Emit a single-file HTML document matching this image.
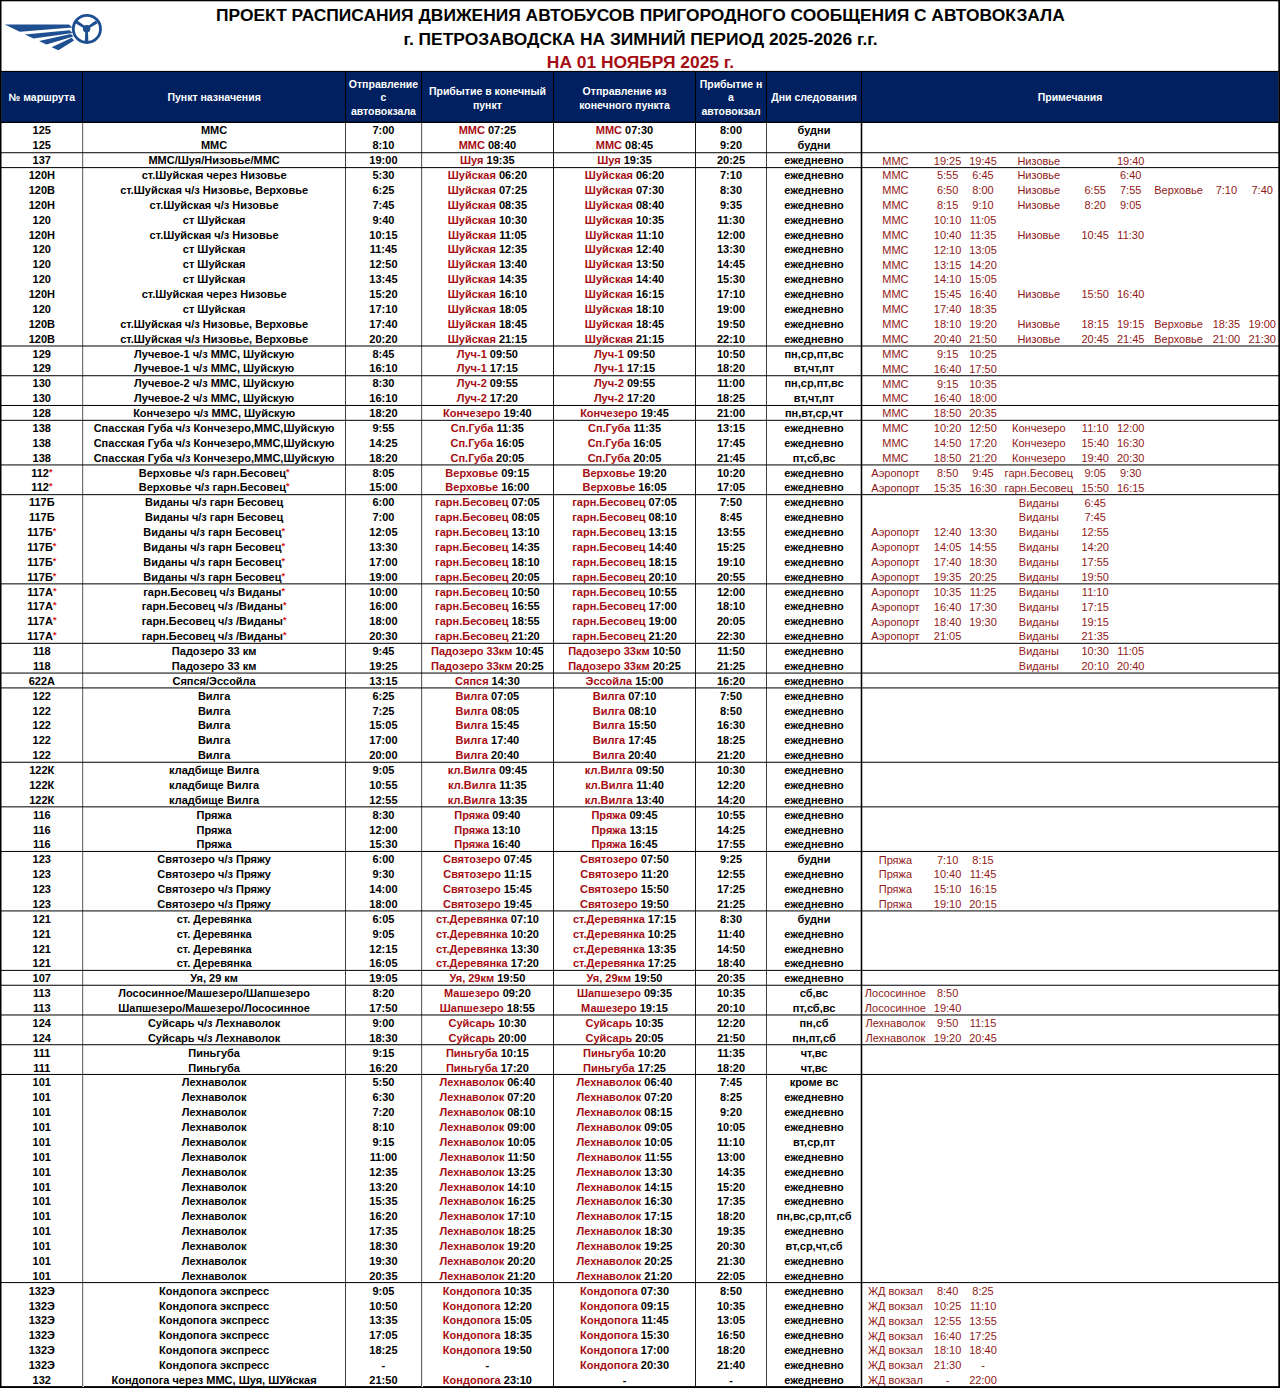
<!DOCTYPE html>
<html lang="ru"><head><meta charset="utf-8"><title>Расписание</title>
<style>
html,body{margin:0;padding:0;background:#fff;}
body{width:1280px;height:1388px;overflow:hidden;position:relative;font-family:"Liberation Sans",Arial,sans-serif;}
.t{position:absolute;white-space:nowrap;text-align:center;font-weight:bold;font-size:11px;line-height:12px;height:12px;color:#000;}
.r{color:#a50d12;}
.m{position:absolute;white-space:nowrap;text-align:center;font-weight:normal;font-size:11px;line-height:12px;height:12px;color:#901818;}
.h{position:absolute;white-space:nowrap;text-align:center;font-weight:bold;font-size:10.5px;line-height:12px;color:#fff;}
.ti{position:absolute;left:140px;width:1001px;text-align:center;white-space:nowrap;font-weight:bold;font-size:17.4px;line-height:20px;color:#000;}
sup{font-size:9px;line-height:0;color:#d81818;vertical-align:0;position:relative;top:-2px;font-weight:bold;}
svg{position:absolute;left:0;top:0;}
</style></head><body>
<svg width="1280" height="1388" viewBox="0 0 1280 1388"><rect x="1.2" y="71.8" width="1277.3" height="50.2" fill="#002060"/><rect x="0" y="0" width="1280" height="1.3" fill="#000"/><rect x="0" y="0" width="1.5" height="1388" fill="#000"/><rect x="1278.3" y="0" width="1.7" height="1388" fill="#000"/><rect x="0" y="1386.1" width="1280" height="1.9" fill="#000"/><rect x="0" y="70.9" width="1280" height="1.1" fill="#000"/><rect x="0" y="121.7" width="1280" height="1.3" fill="#000"/><rect x="82" y="123" width="1" height="1264" fill="#747474"/><rect x="83" y="123" width="1" height="1264" fill="#e2e2e2"/><rect x="345" y="123" width="1" height="1264" fill="#404040"/><rect x="421" y="123" width="1" height="1264" fill="#626262"/><rect x="422" y="123" width="1" height="1264" fill="#e8e8e8"/><rect x="553" y="123" width="1" height="1264" fill="#1a1a1a"/><rect x="695" y="123" width="1" height="1264" fill="#1a1a1a"/><rect x="766" y="123" width="1" height="1264" fill="#404040"/><rect x="860" y="123" width="1" height="1264" fill="#b8b8b8"/><rect x="861" y="123" width="1" height="1264" fill="#000"/><rect x="862" y="123" width="1" height="1264" fill="#b8b8b8"/><rect x="82" y="71" width="1" height="52" fill="#000"/><rect x="345" y="71" width="1" height="52" fill="#000"/><rect x="421" y="71" width="1" height="52" fill="#000"/><rect x="553" y="71" width="1" height="52" fill="#000"/><rect x="695" y="71" width="1" height="52" fill="#000"/><rect x="766" y="71" width="1" height="52" fill="#000"/><rect x="861" y="71" width="1" height="52" fill="#000"/><rect x="0" y="152.23" width="1280" height="1" fill="#000"/><rect x="0" y="167.10" width="1280" height="1" fill="#000"/><rect x="0" y="345.50" width="1280" height="1" fill="#000"/><rect x="0" y="375.23" width="1280" height="1" fill="#000"/><rect x="0" y="404.96" width="1280" height="1" fill="#000"/><rect x="0" y="419.83" width="1280" height="1" fill="#000"/><rect x="0" y="464.43" width="1280" height="1" fill="#000"/><rect x="0" y="494.16" width="1280" height="1" fill="#000"/><rect x="0" y="583.36" width="1280" height="1" fill="#000"/><rect x="0" y="642.82" width="1280" height="1" fill="#000"/><rect x="0" y="672.56" width="1280" height="1" fill="#000"/><rect x="0" y="687.42" width="1280" height="1" fill="#000"/><rect x="0" y="761.76" width="1280" height="1" fill="#000"/><rect x="0" y="806.35" width="1280" height="1" fill="#000"/><rect x="0" y="850.95" width="1280" height="1" fill="#000"/><rect x="0" y="910.42" width="1280" height="1" fill="#000"/><rect x="0" y="969.88" width="1280" height="1" fill="#000"/><rect x="0" y="984.75" width="1280" height="1" fill="#000"/><rect x="0" y="1014.48" width="1280" height="1" fill="#000"/><rect x="0" y="1044.22" width="1280" height="1" fill="#000"/><rect x="0" y="1073.95" width="1280" height="1" fill="#000"/><rect x="0" y="1282.08" width="1280" height="1" fill="#000"/></svg>
<svg width="110" height="60" viewBox="0 0 110 60" style="left:0;top:0">
<g fill="#1d4f91">
<polygon points="4.7,24.4 69,24.6 72.5,27.6 19.8,31.8"/>
<polygon points="24.9,34.4 69.5,30.2 72.8,33.0 33.5,38.6"/>
<polygon points="39.1,40.9 70.8,33.9 73.4,36.6 46.4,44.6"/>
<polygon points="51.6,47.3 71.8,37.8 74.0,40.4 58.4,50.2"/>
</g>
<circle cx="86.9" cy="28.9" r="13.6" fill="none" stroke="#1d4f91" stroke-width="2.8"/>
<circle cx="86.6" cy="28.7" r="3.7" fill="#1d4f91"/>
<polygon points="87.11,27.59 85.89,29.41 75.41,23.13 77.19,20.47" fill="#1d4f91"/><polygon points="87.11,29.41 85.89,27.59 95.81,20.47 97.59,23.13" fill="#1d4f91"/>
<polygon points="85.3,30 87.9,30 88.4,42.5 84.8,42.5" fill="#1d4f91"/>
</svg>
<div class="ti" style="top:4.60px;color:#000">ПРОЕКТ РАСПИСАНИЯ ДВИЖЕНИЯ АВТОБУСОВ ПРИГОРОДНОГО СООБЩЕНИЯ С АВТОВОКЗАЛА</div>
<div class="ti" style="top:28.75px;color:#000">г. ПЕТРОЗАВОДСКА НА ЗИМНИЙ ПЕРИОД 2025-2026 г.г.</div>
<div class="ti" style="top:51.50px;color:#a50d12">НА 01 НОЯБРЯ 2025 г.</div>
<div class="h" style="left:1.0px;width:81.6px;top:91.30px">№ маршрута</div>
<div class="h" style="left:82.6px;width:263.0px;top:91.30px">Пункт назначения</div>
<div class="h" style="left:345.6px;width:75.7px;top:77.50px">Отправление</div>
<div class="h" style="left:345.6px;width:75.7px;top:91.35px">с</div>
<div class="h" style="left:345.6px;width:75.7px;top:105.20px">автовокзала</div>
<div class="h" style="left:421.3px;width:132.2px;top:84.70px">Прибытие в конечный</div>
<div class="h" style="left:421.3px;width:132.2px;top:98.55px">пункт</div>
<div class="h" style="left:553.5px;width:142.0px;top:84.70px">Отправление из</div>
<div class="h" style="left:553.5px;width:142.0px;top:98.55px">конечного пункта</div>
<div class="h" style="left:695.5px;width:71.0px;top:77.50px">Прибытие н</div>
<div class="h" style="left:695.5px;width:71.0px;top:91.35px">а</div>
<div class="h" style="left:695.5px;width:71.0px;top:105.20px">автовокзал</div>
<div class="h" style="left:766.5px;width:95.0px;top:91.30px">Дни следования</div>
<div class="h" style="left:861.5px;width:417.0px;top:91.30px">Примечания</div>
<div class="t" style="left:1.0px;width:81.6px;top:124.45px">125</div>
<div class="t" style="left:82.6px;width:263.0px;top:124.45px">ММС</div>
<div class="t" style="left:345.6px;width:75.7px;top:124.45px">7:00</div>
<div class="t" style="left:421.3px;width:132.2px;top:124.45px"><span class="r">ММС</span> 07:25</div>
<div class="t" style="left:553.5px;width:142.0px;top:124.45px"><span class="r">ММС</span> 07:30</div>
<div class="t" style="left:695.5px;width:71.0px;top:124.45px">8:00</div>
<div class="t" style="left:766.5px;width:95.0px;top:124.45px">будни</div>
<div class="t" style="left:1.0px;width:81.6px;top:139.32px">125</div>
<div class="t" style="left:82.6px;width:263.0px;top:139.32px">ММС</div>
<div class="t" style="left:345.6px;width:75.7px;top:139.32px">8:10</div>
<div class="t" style="left:421.3px;width:132.2px;top:139.32px"><span class="r">ММС</span> 08:40</div>
<div class="t" style="left:553.5px;width:142.0px;top:139.32px"><span class="r">ММС</span> 08:45</div>
<div class="t" style="left:695.5px;width:71.0px;top:139.32px">9:20</div>
<div class="t" style="left:766.5px;width:95.0px;top:139.32px">будни</div>
<div class="t" style="left:1.0px;width:81.6px;top:154.20px">137</div>
<div class="t" style="left:82.6px;width:263.0px;top:154.20px">ММС/Шуя/Низовье/ММС</div>
<div class="t" style="left:345.6px;width:75.7px;top:154.20px">19:00</div>
<div class="t" style="left:421.3px;width:132.2px;top:154.20px"><span class="r">Шуя</span> 19:35</div>
<div class="t" style="left:553.5px;width:142.0px;top:154.20px"><span class="r">Шуя</span> 19:35</div>
<div class="t" style="left:695.5px;width:71.0px;top:154.20px">20:25</div>
<div class="t" style="left:766.5px;width:95.0px;top:154.20px">ежедневно</div>
<div class="m" style="left:845.4px;width:100px;top:154.50px">ММС</div>
<div class="m" style="left:897.6px;width:100px;top:154.50px">19:25</div>
<div class="m" style="left:933.0px;width:100px;top:154.50px">19:45</div>
<div class="m" style="left:988.8px;width:100px;top:154.50px">Низовье</div>
<div class="m" style="left:1080.7px;width:100px;top:154.50px">19:40</div>
<div class="t" style="left:1.0px;width:81.6px;top:169.07px">120Н</div>
<div class="t" style="left:82.6px;width:263.0px;top:169.07px">ст.Шуйская через Низовье</div>
<div class="t" style="left:345.6px;width:75.7px;top:169.07px">5:30</div>
<div class="t" style="left:421.3px;width:132.2px;top:169.07px"><span class="r">Шуйская</span> 06:20</div>
<div class="t" style="left:553.5px;width:142.0px;top:169.07px"><span class="r">Шуйская</span> 06:20</div>
<div class="t" style="left:695.5px;width:71.0px;top:169.07px">7:10</div>
<div class="t" style="left:766.5px;width:95.0px;top:169.07px">ежедневно</div>
<div class="m" style="left:845.4px;width:100px;top:169.37px">ММС</div>
<div class="m" style="left:897.6px;width:100px;top:169.37px">5:55</div>
<div class="m" style="left:933.0px;width:100px;top:169.37px">6:45</div>
<div class="m" style="left:988.8px;width:100px;top:169.37px">Низовье</div>
<div class="m" style="left:1080.7px;width:100px;top:169.37px">6:40</div>
<div class="t" style="left:1.0px;width:81.6px;top:183.95px">120В</div>
<div class="t" style="left:82.6px;width:263.0px;top:183.95px">ст.Шуйская ч/з Низовье, Верховье</div>
<div class="t" style="left:345.6px;width:75.7px;top:183.95px">6:25</div>
<div class="t" style="left:421.3px;width:132.2px;top:183.95px"><span class="r">Шуйская</span> 07:25</div>
<div class="t" style="left:553.5px;width:142.0px;top:183.95px"><span class="r">Шуйская</span> 07:30</div>
<div class="t" style="left:695.5px;width:71.0px;top:183.95px">8:30</div>
<div class="t" style="left:766.5px;width:95.0px;top:183.95px">ежедневно</div>
<div class="m" style="left:845.4px;width:100px;top:184.25px">ММС</div>
<div class="m" style="left:897.6px;width:100px;top:184.25px">6:50</div>
<div class="m" style="left:933.0px;width:100px;top:184.25px">8:00</div>
<div class="m" style="left:988.8px;width:100px;top:184.25px">Низовье</div>
<div class="m" style="left:1045.2px;width:100px;top:184.25px">6:55</div>
<div class="m" style="left:1080.7px;width:100px;top:184.25px">7:55</div>
<div class="m" style="left:1128.6px;width:100px;top:184.25px">Верховье</div>
<div class="m" style="left:1176.4px;width:100px;top:184.25px">7:10</div>
<div class="m" style="left:1212.2px;width:100px;top:184.25px">7:40</div>
<div class="t" style="left:1.0px;width:81.6px;top:198.82px">120Н</div>
<div class="t" style="left:82.6px;width:263.0px;top:198.82px">ст.Шуйская ч/з Низовье</div>
<div class="t" style="left:345.6px;width:75.7px;top:198.82px">7:45</div>
<div class="t" style="left:421.3px;width:132.2px;top:198.82px"><span class="r">Шуйская</span> 08:35</div>
<div class="t" style="left:553.5px;width:142.0px;top:198.82px"><span class="r">Шуйская</span> 08:40</div>
<div class="t" style="left:695.5px;width:71.0px;top:198.82px">9:35</div>
<div class="t" style="left:766.5px;width:95.0px;top:198.82px">ежедневно</div>
<div class="m" style="left:845.4px;width:100px;top:199.12px">ММС</div>
<div class="m" style="left:897.6px;width:100px;top:199.12px">8:15</div>
<div class="m" style="left:933.0px;width:100px;top:199.12px">9:10</div>
<div class="m" style="left:988.8px;width:100px;top:199.12px">Низовье</div>
<div class="m" style="left:1045.2px;width:100px;top:199.12px">8:20</div>
<div class="m" style="left:1080.7px;width:100px;top:199.12px">9:05</div>
<div class="t" style="left:1.0px;width:81.6px;top:213.69px">120</div>
<div class="t" style="left:82.6px;width:263.0px;top:213.69px">ст Шуйская</div>
<div class="t" style="left:345.6px;width:75.7px;top:213.69px">9:40</div>
<div class="t" style="left:421.3px;width:132.2px;top:213.69px"><span class="r">Шуйская</span> 10:30</div>
<div class="t" style="left:553.5px;width:142.0px;top:213.69px"><span class="r">Шуйская</span> 10:35</div>
<div class="t" style="left:695.5px;width:71.0px;top:213.69px">11:30</div>
<div class="t" style="left:766.5px;width:95.0px;top:213.69px">ежедневно</div>
<div class="m" style="left:845.4px;width:100px;top:213.99px">ММС</div>
<div class="m" style="left:897.6px;width:100px;top:213.99px">10:10</div>
<div class="m" style="left:933.0px;width:100px;top:213.99px">11:05</div>
<div class="t" style="left:1.0px;width:81.6px;top:228.57px">120Н</div>
<div class="t" style="left:82.6px;width:263.0px;top:228.57px">ст.Шуйская ч/з Низовье</div>
<div class="t" style="left:345.6px;width:75.7px;top:228.57px">10:15</div>
<div class="t" style="left:421.3px;width:132.2px;top:228.57px"><span class="r">Шуйская</span> 11:05</div>
<div class="t" style="left:553.5px;width:142.0px;top:228.57px"><span class="r">Шуйская</span> 11:10</div>
<div class="t" style="left:695.5px;width:71.0px;top:228.57px">12:00</div>
<div class="t" style="left:766.5px;width:95.0px;top:228.57px">ежедневно</div>
<div class="m" style="left:845.4px;width:100px;top:228.87px">ММС</div>
<div class="m" style="left:897.6px;width:100px;top:228.87px">10:40</div>
<div class="m" style="left:933.0px;width:100px;top:228.87px">11:35</div>
<div class="m" style="left:988.8px;width:100px;top:228.87px">Низовье</div>
<div class="m" style="left:1045.2px;width:100px;top:228.87px">10:45</div>
<div class="m" style="left:1080.7px;width:100px;top:228.87px">11:30</div>
<div class="t" style="left:1.0px;width:81.6px;top:243.44px">120</div>
<div class="t" style="left:82.6px;width:263.0px;top:243.44px">ст Шуйская</div>
<div class="t" style="left:345.6px;width:75.7px;top:243.44px">11:45</div>
<div class="t" style="left:421.3px;width:132.2px;top:243.44px"><span class="r">Шуйская</span> 12:35</div>
<div class="t" style="left:553.5px;width:142.0px;top:243.44px"><span class="r">Шуйская</span> 12:40</div>
<div class="t" style="left:695.5px;width:71.0px;top:243.44px">13:30</div>
<div class="t" style="left:766.5px;width:95.0px;top:243.44px">ежедневно</div>
<div class="m" style="left:845.4px;width:100px;top:243.74px">ММС</div>
<div class="m" style="left:897.6px;width:100px;top:243.74px">12:10</div>
<div class="m" style="left:933.0px;width:100px;top:243.74px">13:05</div>
<div class="t" style="left:1.0px;width:81.6px;top:258.32px">120</div>
<div class="t" style="left:82.6px;width:263.0px;top:258.32px">ст Шуйская</div>
<div class="t" style="left:345.6px;width:75.7px;top:258.32px">12:50</div>
<div class="t" style="left:421.3px;width:132.2px;top:258.32px"><span class="r">Шуйская</span> 13:40</div>
<div class="t" style="left:553.5px;width:142.0px;top:258.32px"><span class="r">Шуйская</span> 13:50</div>
<div class="t" style="left:695.5px;width:71.0px;top:258.32px">14:45</div>
<div class="t" style="left:766.5px;width:95.0px;top:258.32px">ежедневно</div>
<div class="m" style="left:845.4px;width:100px;top:258.62px">ММС</div>
<div class="m" style="left:897.6px;width:100px;top:258.62px">13:15</div>
<div class="m" style="left:933.0px;width:100px;top:258.62px">14:20</div>
<div class="t" style="left:1.0px;width:81.6px;top:273.19px">120</div>
<div class="t" style="left:82.6px;width:263.0px;top:273.19px">ст Шуйская</div>
<div class="t" style="left:345.6px;width:75.7px;top:273.19px">13:45</div>
<div class="t" style="left:421.3px;width:132.2px;top:273.19px"><span class="r">Шуйская</span> 14:35</div>
<div class="t" style="left:553.5px;width:142.0px;top:273.19px"><span class="r">Шуйская</span> 14:40</div>
<div class="t" style="left:695.5px;width:71.0px;top:273.19px">15:30</div>
<div class="t" style="left:766.5px;width:95.0px;top:273.19px">ежедневно</div>
<div class="m" style="left:845.4px;width:100px;top:273.49px">ММС</div>
<div class="m" style="left:897.6px;width:100px;top:273.49px">14:10</div>
<div class="m" style="left:933.0px;width:100px;top:273.49px">15:05</div>
<div class="t" style="left:1.0px;width:81.6px;top:288.06px">120Н</div>
<div class="t" style="left:82.6px;width:263.0px;top:288.06px">ст.Шуйская через Низовье</div>
<div class="t" style="left:345.6px;width:75.7px;top:288.06px">15:20</div>
<div class="t" style="left:421.3px;width:132.2px;top:288.06px"><span class="r">Шуйская</span> 16:10</div>
<div class="t" style="left:553.5px;width:142.0px;top:288.06px"><span class="r">Шуйская</span> 16:15</div>
<div class="t" style="left:695.5px;width:71.0px;top:288.06px">17:10</div>
<div class="t" style="left:766.5px;width:95.0px;top:288.06px">ежедневно</div>
<div class="m" style="left:845.4px;width:100px;top:288.36px">ММС</div>
<div class="m" style="left:897.6px;width:100px;top:288.36px">15:45</div>
<div class="m" style="left:933.0px;width:100px;top:288.36px">16:40</div>
<div class="m" style="left:988.8px;width:100px;top:288.36px">Низовье</div>
<div class="m" style="left:1045.2px;width:100px;top:288.36px">15:50</div>
<div class="m" style="left:1080.7px;width:100px;top:288.36px">16:40</div>
<div class="t" style="left:1.0px;width:81.6px;top:302.94px">120</div>
<div class="t" style="left:82.6px;width:263.0px;top:302.94px">ст Шуйская</div>
<div class="t" style="left:345.6px;width:75.7px;top:302.94px">17:10</div>
<div class="t" style="left:421.3px;width:132.2px;top:302.94px"><span class="r">Шуйская</span> 18:05</div>
<div class="t" style="left:553.5px;width:142.0px;top:302.94px"><span class="r">Шуйская</span> 18:10</div>
<div class="t" style="left:695.5px;width:71.0px;top:302.94px">19:00</div>
<div class="t" style="left:766.5px;width:95.0px;top:302.94px">ежедневно</div>
<div class="m" style="left:845.4px;width:100px;top:303.24px">ММС</div>
<div class="m" style="left:897.6px;width:100px;top:303.24px">17:40</div>
<div class="m" style="left:933.0px;width:100px;top:303.24px">18:35</div>
<div class="t" style="left:1.0px;width:81.6px;top:317.81px">120В</div>
<div class="t" style="left:82.6px;width:263.0px;top:317.81px">ст.Шуйская ч/з Низовье, Верховье</div>
<div class="t" style="left:345.6px;width:75.7px;top:317.81px">17:40</div>
<div class="t" style="left:421.3px;width:132.2px;top:317.81px"><span class="r">Шуйская</span> 18:45</div>
<div class="t" style="left:553.5px;width:142.0px;top:317.81px"><span class="r">Шуйская</span> 18:45</div>
<div class="t" style="left:695.5px;width:71.0px;top:317.81px">19:50</div>
<div class="t" style="left:766.5px;width:95.0px;top:317.81px">ежедневно</div>
<div class="m" style="left:845.4px;width:100px;top:318.11px">ММС</div>
<div class="m" style="left:897.6px;width:100px;top:318.11px">18:10</div>
<div class="m" style="left:933.0px;width:100px;top:318.11px">19:20</div>
<div class="m" style="left:988.8px;width:100px;top:318.11px">Низовье</div>
<div class="m" style="left:1045.2px;width:100px;top:318.11px">18:15</div>
<div class="m" style="left:1080.7px;width:100px;top:318.11px">19:15</div>
<div class="m" style="left:1128.6px;width:100px;top:318.11px">Верховье</div>
<div class="m" style="left:1176.4px;width:100px;top:318.11px">18:35</div>
<div class="m" style="left:1212.2px;width:100px;top:318.11px">19:00</div>
<div class="t" style="left:1.0px;width:81.6px;top:332.69px">120В</div>
<div class="t" style="left:82.6px;width:263.0px;top:332.69px">ст.Шуйская ч/з Низовье, Верховье</div>
<div class="t" style="left:345.6px;width:75.7px;top:332.69px">20:20</div>
<div class="t" style="left:421.3px;width:132.2px;top:332.69px"><span class="r">Шуйская</span> 21:15</div>
<div class="t" style="left:553.5px;width:142.0px;top:332.69px"><span class="r">Шуйская</span> 21:15</div>
<div class="t" style="left:695.5px;width:71.0px;top:332.69px">22:10</div>
<div class="t" style="left:766.5px;width:95.0px;top:332.69px">ежедневно</div>
<div class="m" style="left:845.4px;width:100px;top:332.99px">ММС</div>
<div class="m" style="left:897.6px;width:100px;top:332.99px">20:40</div>
<div class="m" style="left:933.0px;width:100px;top:332.99px">21:50</div>
<div class="m" style="left:988.8px;width:100px;top:332.99px">Низовье</div>
<div class="m" style="left:1045.2px;width:100px;top:332.99px">20:45</div>
<div class="m" style="left:1080.7px;width:100px;top:332.99px">21:45</div>
<div class="m" style="left:1128.6px;width:100px;top:332.99px">Верховье</div>
<div class="m" style="left:1176.4px;width:100px;top:332.99px">21:00</div>
<div class="m" style="left:1212.2px;width:100px;top:332.99px">21:30</div>
<div class="t" style="left:1.0px;width:81.6px;top:347.56px">129</div>
<div class="t" style="left:82.6px;width:263.0px;top:347.56px">Лучевое-1 ч/з ММС, Шуйскую</div>
<div class="t" style="left:345.6px;width:75.7px;top:347.56px">8:45</div>
<div class="t" style="left:421.3px;width:132.2px;top:347.56px"><span class="r">Луч-1</span> 09:50</div>
<div class="t" style="left:553.5px;width:142.0px;top:347.56px"><span class="r">Луч-1</span> 09:50</div>
<div class="t" style="left:695.5px;width:71.0px;top:347.56px">10:50</div>
<div class="t" style="left:766.5px;width:95.0px;top:347.56px">пн,ср,пт,вс</div>
<div class="m" style="left:845.4px;width:100px;top:347.86px">ММС</div>
<div class="m" style="left:897.6px;width:100px;top:347.86px">9:15</div>
<div class="m" style="left:933.0px;width:100px;top:347.86px">10:25</div>
<div class="t" style="left:1.0px;width:81.6px;top:362.43px">129</div>
<div class="t" style="left:82.6px;width:263.0px;top:362.43px">Лучевое-1 ч/з ММС, Шуйскую</div>
<div class="t" style="left:345.6px;width:75.7px;top:362.43px">16:10</div>
<div class="t" style="left:421.3px;width:132.2px;top:362.43px"><span class="r">Луч-1</span> 17:15</div>
<div class="t" style="left:553.5px;width:142.0px;top:362.43px"><span class="r">Луч-1</span> 17:15</div>
<div class="t" style="left:695.5px;width:71.0px;top:362.43px">18:20</div>
<div class="t" style="left:766.5px;width:95.0px;top:362.43px">вт,чт,пт</div>
<div class="m" style="left:845.4px;width:100px;top:362.73px">ММС</div>
<div class="m" style="left:897.6px;width:100px;top:362.73px">16:40</div>
<div class="m" style="left:933.0px;width:100px;top:362.73px">17:50</div>
<div class="t" style="left:1.0px;width:81.6px;top:377.31px">130</div>
<div class="t" style="left:82.6px;width:263.0px;top:377.31px">Лучевое-2 ч/з ММС, Шуйскую</div>
<div class="t" style="left:345.6px;width:75.7px;top:377.31px">8:30</div>
<div class="t" style="left:421.3px;width:132.2px;top:377.31px"><span class="r">Луч-2</span> 09:55</div>
<div class="t" style="left:553.5px;width:142.0px;top:377.31px"><span class="r">Луч-2</span> 09:55</div>
<div class="t" style="left:695.5px;width:71.0px;top:377.31px">11:00</div>
<div class="t" style="left:766.5px;width:95.0px;top:377.31px">пн,ср,пт,вс</div>
<div class="m" style="left:845.4px;width:100px;top:377.61px">ММС</div>
<div class="m" style="left:897.6px;width:100px;top:377.61px">9:15</div>
<div class="m" style="left:933.0px;width:100px;top:377.61px">10:35</div>
<div class="t" style="left:1.0px;width:81.6px;top:392.18px">130</div>
<div class="t" style="left:82.6px;width:263.0px;top:392.18px">Лучевое-2 ч/з ММС, Шуйскую</div>
<div class="t" style="left:345.6px;width:75.7px;top:392.18px">16:10</div>
<div class="t" style="left:421.3px;width:132.2px;top:392.18px"><span class="r">Луч-2</span> 17:20</div>
<div class="t" style="left:553.5px;width:142.0px;top:392.18px"><span class="r">Луч-2</span> 17:20</div>
<div class="t" style="left:695.5px;width:71.0px;top:392.18px">18:25</div>
<div class="t" style="left:766.5px;width:95.0px;top:392.18px">вт,чт,пт</div>
<div class="m" style="left:845.4px;width:100px;top:392.48px">ММС</div>
<div class="m" style="left:897.6px;width:100px;top:392.48px">16:40</div>
<div class="m" style="left:933.0px;width:100px;top:392.48px">18:00</div>
<div class="t" style="left:1.0px;width:81.6px;top:407.06px">128</div>
<div class="t" style="left:82.6px;width:263.0px;top:407.06px">Кончезеро ч/з ММС, Шуйскую</div>
<div class="t" style="left:345.6px;width:75.7px;top:407.06px">18:20</div>
<div class="t" style="left:421.3px;width:132.2px;top:407.06px"><span class="r">Кончезеро</span> 19:40</div>
<div class="t" style="left:553.5px;width:142.0px;top:407.06px"><span class="r">Кончезеро</span> 19:45</div>
<div class="t" style="left:695.5px;width:71.0px;top:407.06px">21:00</div>
<div class="t" style="left:766.5px;width:95.0px;top:407.06px">пн,вт,ср,чт</div>
<div class="m" style="left:845.4px;width:100px;top:407.36px">ММС</div>
<div class="m" style="left:897.6px;width:100px;top:407.36px">18:50</div>
<div class="m" style="left:933.0px;width:100px;top:407.36px">20:35</div>
<div class="t" style="left:1.0px;width:81.6px;top:421.93px">138</div>
<div class="t" style="left:82.6px;width:263.0px;top:421.93px">Спасская Губа ч/з Кончезеро,ММС,Шуйскую</div>
<div class="t" style="left:345.6px;width:75.7px;top:421.93px">9:55</div>
<div class="t" style="left:421.3px;width:132.2px;top:421.93px"><span class="r">Сп.Губа</span> 11:35</div>
<div class="t" style="left:553.5px;width:142.0px;top:421.93px"><span class="r">Сп.Губа</span> 11:35</div>
<div class="t" style="left:695.5px;width:71.0px;top:421.93px">13:15</div>
<div class="t" style="left:766.5px;width:95.0px;top:421.93px">ежедневно</div>
<div class="m" style="left:845.4px;width:100px;top:422.23px">ММС</div>
<div class="m" style="left:897.6px;width:100px;top:422.23px">10:20</div>
<div class="m" style="left:933.0px;width:100px;top:422.23px">12:50</div>
<div class="m" style="left:988.8px;width:100px;top:422.23px">Кончезеро</div>
<div class="m" style="left:1045.2px;width:100px;top:422.23px">11:10</div>
<div class="m" style="left:1080.7px;width:100px;top:422.23px">12:00</div>
<div class="t" style="left:1.0px;width:81.6px;top:436.80px">138</div>
<div class="t" style="left:82.6px;width:263.0px;top:436.80px">Спасская Губа ч/з Кончезеро,ММС,Шуйскую</div>
<div class="t" style="left:345.6px;width:75.7px;top:436.80px">14:25</div>
<div class="t" style="left:421.3px;width:132.2px;top:436.80px"><span class="r">Сп.Губа</span> 16:05</div>
<div class="t" style="left:553.5px;width:142.0px;top:436.80px"><span class="r">Сп.Губа</span> 16:05</div>
<div class="t" style="left:695.5px;width:71.0px;top:436.80px">17:45</div>
<div class="t" style="left:766.5px;width:95.0px;top:436.80px">ежедневно</div>
<div class="m" style="left:845.4px;width:100px;top:437.10px">ММС</div>
<div class="m" style="left:897.6px;width:100px;top:437.10px">14:50</div>
<div class="m" style="left:933.0px;width:100px;top:437.10px">17:20</div>
<div class="m" style="left:988.8px;width:100px;top:437.10px">Кончезеро</div>
<div class="m" style="left:1045.2px;width:100px;top:437.10px">15:40</div>
<div class="m" style="left:1080.7px;width:100px;top:437.10px">16:30</div>
<div class="t" style="left:1.0px;width:81.6px;top:451.68px">138</div>
<div class="t" style="left:82.6px;width:263.0px;top:451.68px">Спасская Губа ч/з Кончезеро,ММС,Шуйскую</div>
<div class="t" style="left:345.6px;width:75.7px;top:451.68px">18:20</div>
<div class="t" style="left:421.3px;width:132.2px;top:451.68px"><span class="r">Сп.Губа</span> 20:05</div>
<div class="t" style="left:553.5px;width:142.0px;top:451.68px"><span class="r">Сп.Губа</span> 20:05</div>
<div class="t" style="left:695.5px;width:71.0px;top:451.68px">21:45</div>
<div class="t" style="left:766.5px;width:95.0px;top:451.68px">пт,сб,вс</div>
<div class="m" style="left:845.4px;width:100px;top:451.98px">ММС</div>
<div class="m" style="left:897.6px;width:100px;top:451.98px">18:50</div>
<div class="m" style="left:933.0px;width:100px;top:451.98px">21:20</div>
<div class="m" style="left:988.8px;width:100px;top:451.98px">Кончезеро</div>
<div class="m" style="left:1045.2px;width:100px;top:451.98px">19:40</div>
<div class="m" style="left:1080.7px;width:100px;top:451.98px">20:30</div>
<div class="t" style="left:1.0px;width:81.6px;top:466.55px">112<sup>*</sup></div>
<div class="t" style="left:82.6px;width:263.0px;top:466.55px">Верховье ч/з гарн.Бесовец<sup>*</sup></div>
<div class="t" style="left:345.6px;width:75.7px;top:466.55px">8:05</div>
<div class="t" style="left:421.3px;width:132.2px;top:466.55px"><span class="r">Верховье</span> 09:15</div>
<div class="t" style="left:553.5px;width:142.0px;top:466.55px"><span class="r">Верховье</span> 19:20</div>
<div class="t" style="left:695.5px;width:71.0px;top:466.55px">10:20</div>
<div class="t" style="left:766.5px;width:95.0px;top:466.55px">ежедневно</div>
<div class="m" style="left:845.4px;width:100px;top:466.85px">Аэропорт</div>
<div class="m" style="left:897.6px;width:100px;top:466.85px">8:50</div>
<div class="m" style="left:933.0px;width:100px;top:466.85px">9:45</div>
<div class="m" style="left:988.8px;width:100px;top:466.85px">гарн.Бесовец</div>
<div class="m" style="left:1045.2px;width:100px;top:466.85px">9:05</div>
<div class="m" style="left:1080.7px;width:100px;top:466.85px">9:30</div>
<div class="t" style="left:1.0px;width:81.6px;top:481.43px">112<sup>*</sup></div>
<div class="t" style="left:82.6px;width:263.0px;top:481.43px">Верховье ч/з гарн.Бесовец<sup>*</sup></div>
<div class="t" style="left:345.6px;width:75.7px;top:481.43px">15:00</div>
<div class="t" style="left:421.3px;width:132.2px;top:481.43px"><span class="r">Верховье</span> 16:00</div>
<div class="t" style="left:553.5px;width:142.0px;top:481.43px"><span class="r">Верховье</span> 16:05</div>
<div class="t" style="left:695.5px;width:71.0px;top:481.43px">17:05</div>
<div class="t" style="left:766.5px;width:95.0px;top:481.43px">ежедневно</div>
<div class="m" style="left:845.4px;width:100px;top:481.73px">Аэропорт</div>
<div class="m" style="left:897.6px;width:100px;top:481.73px">15:35</div>
<div class="m" style="left:933.0px;width:100px;top:481.73px">16:30</div>
<div class="m" style="left:988.8px;width:100px;top:481.73px">гарн.Бесовец</div>
<div class="m" style="left:1045.2px;width:100px;top:481.73px">15:50</div>
<div class="m" style="left:1080.7px;width:100px;top:481.73px">16:15</div>
<div class="t" style="left:1.0px;width:81.6px;top:496.30px">117Б</div>
<div class="t" style="left:82.6px;width:263.0px;top:496.30px">Виданы ч/з гарн Бесовец</div>
<div class="t" style="left:345.6px;width:75.7px;top:496.30px">6:00</div>
<div class="t" style="left:421.3px;width:132.2px;top:496.30px"><span class="r">гарн.Бесовец</span> 07:05</div>
<div class="t" style="left:553.5px;width:142.0px;top:496.30px"><span class="r">гарн.Бесовец</span> 07:05</div>
<div class="t" style="left:695.5px;width:71.0px;top:496.30px">7:50</div>
<div class="t" style="left:766.5px;width:95.0px;top:496.30px">ежедневно</div>
<div class="m" style="left:988.8px;width:100px;top:496.60px">Виданы</div>
<div class="m" style="left:1045.2px;width:100px;top:496.60px">6:45</div>
<div class="t" style="left:1.0px;width:81.6px;top:511.17px">117Б</div>
<div class="t" style="left:82.6px;width:263.0px;top:511.17px">Виданы ч/з гарн Бесовец</div>
<div class="t" style="left:345.6px;width:75.7px;top:511.17px">7:00</div>
<div class="t" style="left:421.3px;width:132.2px;top:511.17px"><span class="r">гарн.Бесовец</span> 08:05</div>
<div class="t" style="left:553.5px;width:142.0px;top:511.17px"><span class="r">гарн.Бесовец</span> 08:10</div>
<div class="t" style="left:695.5px;width:71.0px;top:511.17px">8:45</div>
<div class="t" style="left:766.5px;width:95.0px;top:511.17px">ежедневно</div>
<div class="m" style="left:988.8px;width:100px;top:511.47px">Виданы</div>
<div class="m" style="left:1045.2px;width:100px;top:511.47px">7:45</div>
<div class="t" style="left:1.0px;width:81.6px;top:526.05px">117Б<sup>*</sup></div>
<div class="t" style="left:82.6px;width:263.0px;top:526.05px">Виданы ч/з гарн Бесовец<sup>*</sup></div>
<div class="t" style="left:345.6px;width:75.7px;top:526.05px">12:05</div>
<div class="t" style="left:421.3px;width:132.2px;top:526.05px"><span class="r">гарн.Бесовец</span> 13:10</div>
<div class="t" style="left:553.5px;width:142.0px;top:526.05px"><span class="r">гарн.Бесовец</span> 13:15</div>
<div class="t" style="left:695.5px;width:71.0px;top:526.05px">13:55</div>
<div class="t" style="left:766.5px;width:95.0px;top:526.05px">ежедневно</div>
<div class="m" style="left:845.4px;width:100px;top:526.35px">Аэропорт</div>
<div class="m" style="left:897.6px;width:100px;top:526.35px">12:40</div>
<div class="m" style="left:933.0px;width:100px;top:526.35px">13:30</div>
<div class="m" style="left:988.8px;width:100px;top:526.35px">Виданы</div>
<div class="m" style="left:1045.2px;width:100px;top:526.35px">12:55</div>
<div class="t" style="left:1.0px;width:81.6px;top:540.92px">117Б<sup>*</sup></div>
<div class="t" style="left:82.6px;width:263.0px;top:540.92px">Виданы ч/з гарн Бесовец<sup>*</sup></div>
<div class="t" style="left:345.6px;width:75.7px;top:540.92px">13:30</div>
<div class="t" style="left:421.3px;width:132.2px;top:540.92px"><span class="r">гарн.Бесовец</span> 14:35</div>
<div class="t" style="left:553.5px;width:142.0px;top:540.92px"><span class="r">гарн.Бесовец</span> 14:40</div>
<div class="t" style="left:695.5px;width:71.0px;top:540.92px">15:25</div>
<div class="t" style="left:766.5px;width:95.0px;top:540.92px">ежедневно</div>
<div class="m" style="left:845.4px;width:100px;top:541.22px">Аэропорт</div>
<div class="m" style="left:897.6px;width:100px;top:541.22px">14:05</div>
<div class="m" style="left:933.0px;width:100px;top:541.22px">14:55</div>
<div class="m" style="left:988.8px;width:100px;top:541.22px">Виданы</div>
<div class="m" style="left:1045.2px;width:100px;top:541.22px">14:20</div>
<div class="t" style="left:1.0px;width:81.6px;top:555.80px">117Б<sup>*</sup></div>
<div class="t" style="left:82.6px;width:263.0px;top:555.80px">Виданы ч/з гарн Бесовец<sup>*</sup></div>
<div class="t" style="left:345.6px;width:75.7px;top:555.80px">17:00</div>
<div class="t" style="left:421.3px;width:132.2px;top:555.80px"><span class="r">гарн.Бесовец</span> 18:10</div>
<div class="t" style="left:553.5px;width:142.0px;top:555.80px"><span class="r">гарн.Бесовец</span> 18:15</div>
<div class="t" style="left:695.5px;width:71.0px;top:555.80px">19:10</div>
<div class="t" style="left:766.5px;width:95.0px;top:555.80px">ежедневно</div>
<div class="m" style="left:845.4px;width:100px;top:556.10px">Аэропорт</div>
<div class="m" style="left:897.6px;width:100px;top:556.10px">17:40</div>
<div class="m" style="left:933.0px;width:100px;top:556.10px">18:30</div>
<div class="m" style="left:988.8px;width:100px;top:556.10px">Виданы</div>
<div class="m" style="left:1045.2px;width:100px;top:556.10px">17:55</div>
<div class="t" style="left:1.0px;width:81.6px;top:570.67px">117Б<sup>*</sup></div>
<div class="t" style="left:82.6px;width:263.0px;top:570.67px">Виданы ч/з гарн Бесовец<sup>*</sup></div>
<div class="t" style="left:345.6px;width:75.7px;top:570.67px">19:00</div>
<div class="t" style="left:421.3px;width:132.2px;top:570.67px"><span class="r">гарн.Бесовец</span> 20:05</div>
<div class="t" style="left:553.5px;width:142.0px;top:570.67px"><span class="r">гарн.Бесовец</span> 20:10</div>
<div class="t" style="left:695.5px;width:71.0px;top:570.67px">20:55</div>
<div class="t" style="left:766.5px;width:95.0px;top:570.67px">ежедневно</div>
<div class="m" style="left:845.4px;width:100px;top:570.97px">Аэропорт</div>
<div class="m" style="left:897.6px;width:100px;top:570.97px">19:35</div>
<div class="m" style="left:933.0px;width:100px;top:570.97px">20:25</div>
<div class="m" style="left:988.8px;width:100px;top:570.97px">Виданы</div>
<div class="m" style="left:1045.2px;width:100px;top:570.97px">19:50</div>
<div class="t" style="left:1.0px;width:81.6px;top:585.54px">117А<sup>*</sup></div>
<div class="t" style="left:82.6px;width:263.0px;top:585.54px">гарн.Бесовец ч/з Виданы<sup>*</sup></div>
<div class="t" style="left:345.6px;width:75.7px;top:585.54px">10:00</div>
<div class="t" style="left:421.3px;width:132.2px;top:585.54px"><span class="r">гарн.Бесовец</span> 10:50</div>
<div class="t" style="left:553.5px;width:142.0px;top:585.54px"><span class="r">гарн.Бесовец</span> 10:55</div>
<div class="t" style="left:695.5px;width:71.0px;top:585.54px">12:00</div>
<div class="t" style="left:766.5px;width:95.0px;top:585.54px">ежедневно</div>
<div class="m" style="left:845.4px;width:100px;top:585.84px">Аэропорт</div>
<div class="m" style="left:897.6px;width:100px;top:585.84px">10:35</div>
<div class="m" style="left:933.0px;width:100px;top:585.84px">11:25</div>
<div class="m" style="left:988.8px;width:100px;top:585.84px">Виданы</div>
<div class="m" style="left:1045.2px;width:100px;top:585.84px">11:10</div>
<div class="t" style="left:1.0px;width:81.6px;top:600.42px">117А<sup>*</sup></div>
<div class="t" style="left:82.6px;width:263.0px;top:600.42px">гарн.Бесовец ч/з /Виданы<sup>*</sup></div>
<div class="t" style="left:345.6px;width:75.7px;top:600.42px">16:00</div>
<div class="t" style="left:421.3px;width:132.2px;top:600.42px"><span class="r">гарн.Бесовец</span> 16:55</div>
<div class="t" style="left:553.5px;width:142.0px;top:600.42px"><span class="r">гарн.Бесовец</span> 17:00</div>
<div class="t" style="left:695.5px;width:71.0px;top:600.42px">18:10</div>
<div class="t" style="left:766.5px;width:95.0px;top:600.42px">ежедневно</div>
<div class="m" style="left:845.4px;width:100px;top:600.72px">Аэропорт</div>
<div class="m" style="left:897.6px;width:100px;top:600.72px">16:40</div>
<div class="m" style="left:933.0px;width:100px;top:600.72px">17:30</div>
<div class="m" style="left:988.8px;width:100px;top:600.72px">Виданы</div>
<div class="m" style="left:1045.2px;width:100px;top:600.72px">17:15</div>
<div class="t" style="left:1.0px;width:81.6px;top:615.29px">117А<sup>*</sup></div>
<div class="t" style="left:82.6px;width:263.0px;top:615.29px">гарн.Бесовец ч/з /Виданы<sup>*</sup></div>
<div class="t" style="left:345.6px;width:75.7px;top:615.29px">18:00</div>
<div class="t" style="left:421.3px;width:132.2px;top:615.29px"><span class="r">гарн.Бесовец</span> 18:55</div>
<div class="t" style="left:553.5px;width:142.0px;top:615.29px"><span class="r">гарн.Бесовец</span> 19:00</div>
<div class="t" style="left:695.5px;width:71.0px;top:615.29px">20:05</div>
<div class="t" style="left:766.5px;width:95.0px;top:615.29px">ежедневно</div>
<div class="m" style="left:845.4px;width:100px;top:615.59px">Аэропорт</div>
<div class="m" style="left:897.6px;width:100px;top:615.59px">18:40</div>
<div class="m" style="left:933.0px;width:100px;top:615.59px">19:30</div>
<div class="m" style="left:988.8px;width:100px;top:615.59px">Виданы</div>
<div class="m" style="left:1045.2px;width:100px;top:615.59px">19:15</div>
<div class="t" style="left:1.0px;width:81.6px;top:630.17px">117А<sup>*</sup></div>
<div class="t" style="left:82.6px;width:263.0px;top:630.17px">гарн.Бесовец ч/з /Виданы<sup>*</sup></div>
<div class="t" style="left:345.6px;width:75.7px;top:630.17px">20:30</div>
<div class="t" style="left:421.3px;width:132.2px;top:630.17px"><span class="r">гарн.Бесовец</span> 21:20</div>
<div class="t" style="left:553.5px;width:142.0px;top:630.17px"><span class="r">гарн.Бесовец</span> 21:20</div>
<div class="t" style="left:695.5px;width:71.0px;top:630.17px">22:30</div>
<div class="t" style="left:766.5px;width:95.0px;top:630.17px">ежедневно</div>
<div class="m" style="left:845.4px;width:100px;top:630.47px">Аэропорт</div>
<div class="m" style="left:897.6px;width:100px;top:630.47px">21:05</div>
<div class="m" style="left:988.8px;width:100px;top:630.47px">Виданы</div>
<div class="m" style="left:1045.2px;width:100px;top:630.47px">21:35</div>
<div class="t" style="left:1.0px;width:81.6px;top:645.04px">118</div>
<div class="t" style="left:82.6px;width:263.0px;top:645.04px">Падозеро 33 км</div>
<div class="t" style="left:345.6px;width:75.7px;top:645.04px">9:45</div>
<div class="t" style="left:421.3px;width:132.2px;top:645.04px"><span class="r">Падозеро 33км</span> 10:45</div>
<div class="t" style="left:553.5px;width:142.0px;top:645.04px"><span class="r">Падозеро 33км</span> 10:50</div>
<div class="t" style="left:695.5px;width:71.0px;top:645.04px">11:50</div>
<div class="t" style="left:766.5px;width:95.0px;top:645.04px">ежедневно</div>
<div class="m" style="left:988.8px;width:100px;top:645.34px">Виданы</div>
<div class="m" style="left:1045.2px;width:100px;top:645.34px">10:30</div>
<div class="m" style="left:1080.7px;width:100px;top:645.34px">11:05</div>
<div class="t" style="left:1.0px;width:81.6px;top:659.91px">118</div>
<div class="t" style="left:82.6px;width:263.0px;top:659.91px">Падозеро 33 км</div>
<div class="t" style="left:345.6px;width:75.7px;top:659.91px">19:25</div>
<div class="t" style="left:421.3px;width:132.2px;top:659.91px"><span class="r">Падозеро 33км</span> 20:25</div>
<div class="t" style="left:553.5px;width:142.0px;top:659.91px"><span class="r">Падозеро 33км</span> 20:25</div>
<div class="t" style="left:695.5px;width:71.0px;top:659.91px">21:25</div>
<div class="t" style="left:766.5px;width:95.0px;top:659.91px">ежедневно</div>
<div class="m" style="left:988.8px;width:100px;top:660.21px">Виданы</div>
<div class="m" style="left:1045.2px;width:100px;top:660.21px">20:10</div>
<div class="m" style="left:1080.7px;width:100px;top:660.21px">20:40</div>
<div class="t" style="left:1.0px;width:81.6px;top:674.79px">622А</div>
<div class="t" style="left:82.6px;width:263.0px;top:674.79px">Сяпся/Эссойла</div>
<div class="t" style="left:345.6px;width:75.7px;top:674.79px">13:15</div>
<div class="t" style="left:421.3px;width:132.2px;top:674.79px"><span class="r">Сяпся</span> 14:30</div>
<div class="t" style="left:553.5px;width:142.0px;top:674.79px"><span class="r">Эссойла</span> 15:00</div>
<div class="t" style="left:695.5px;width:71.0px;top:674.79px">16:20</div>
<div class="t" style="left:766.5px;width:95.0px;top:674.79px">ежедневно</div>
<div class="t" style="left:1.0px;width:81.6px;top:689.66px">122</div>
<div class="t" style="left:82.6px;width:263.0px;top:689.66px">Вилга</div>
<div class="t" style="left:345.6px;width:75.7px;top:689.66px">6:25</div>
<div class="t" style="left:421.3px;width:132.2px;top:689.66px"><span class="r">Вилга</span> 07:05</div>
<div class="t" style="left:553.5px;width:142.0px;top:689.66px"><span class="r">Вилга</span> 07:10</div>
<div class="t" style="left:695.5px;width:71.0px;top:689.66px">7:50</div>
<div class="t" style="left:766.5px;width:95.0px;top:689.66px">ежедневно</div>
<div class="t" style="left:1.0px;width:81.6px;top:704.54px">122</div>
<div class="t" style="left:82.6px;width:263.0px;top:704.54px">Вилга</div>
<div class="t" style="left:345.6px;width:75.7px;top:704.54px">7:25</div>
<div class="t" style="left:421.3px;width:132.2px;top:704.54px"><span class="r">Вилга</span> 08:05</div>
<div class="t" style="left:553.5px;width:142.0px;top:704.54px"><span class="r">Вилга</span> 08:10</div>
<div class="t" style="left:695.5px;width:71.0px;top:704.54px">8:50</div>
<div class="t" style="left:766.5px;width:95.0px;top:704.54px">ежедневно</div>
<div class="t" style="left:1.0px;width:81.6px;top:719.41px">122</div>
<div class="t" style="left:82.6px;width:263.0px;top:719.41px">Вилга</div>
<div class="t" style="left:345.6px;width:75.7px;top:719.41px">15:05</div>
<div class="t" style="left:421.3px;width:132.2px;top:719.41px"><span class="r">Вилга</span> 15:45</div>
<div class="t" style="left:553.5px;width:142.0px;top:719.41px"><span class="r">Вилга</span> 15:50</div>
<div class="t" style="left:695.5px;width:71.0px;top:719.41px">16:30</div>
<div class="t" style="left:766.5px;width:95.0px;top:719.41px">ежедневно</div>
<div class="t" style="left:1.0px;width:81.6px;top:734.28px">122</div>
<div class="t" style="left:82.6px;width:263.0px;top:734.28px">Вилга</div>
<div class="t" style="left:345.6px;width:75.7px;top:734.28px">17:00</div>
<div class="t" style="left:421.3px;width:132.2px;top:734.28px"><span class="r">Вилга</span> 17:40</div>
<div class="t" style="left:553.5px;width:142.0px;top:734.28px"><span class="r">Вилга</span> 17:45</div>
<div class="t" style="left:695.5px;width:71.0px;top:734.28px">18:25</div>
<div class="t" style="left:766.5px;width:95.0px;top:734.28px">ежедневно</div>
<div class="t" style="left:1.0px;width:81.6px;top:749.16px">122</div>
<div class="t" style="left:82.6px;width:263.0px;top:749.16px">Вилга</div>
<div class="t" style="left:345.6px;width:75.7px;top:749.16px">20:00</div>
<div class="t" style="left:421.3px;width:132.2px;top:749.16px"><span class="r">Вилга</span> 20:40</div>
<div class="t" style="left:553.5px;width:142.0px;top:749.16px"><span class="r">Вилга</span> 20:40</div>
<div class="t" style="left:695.5px;width:71.0px;top:749.16px">21:20</div>
<div class="t" style="left:766.5px;width:95.0px;top:749.16px">ежедневно</div>
<div class="t" style="left:1.0px;width:81.6px;top:764.03px">122К</div>
<div class="t" style="left:82.6px;width:263.0px;top:764.03px">кладбище Вилга</div>
<div class="t" style="left:345.6px;width:75.7px;top:764.03px">9:05</div>
<div class="t" style="left:421.3px;width:132.2px;top:764.03px"><span class="r">кл.Вилга</span> 09:45</div>
<div class="t" style="left:553.5px;width:142.0px;top:764.03px"><span class="r">кл.Вилга</span> 09:50</div>
<div class="t" style="left:695.5px;width:71.0px;top:764.03px">10:30</div>
<div class="t" style="left:766.5px;width:95.0px;top:764.03px">ежедневно</div>
<div class="t" style="left:1.0px;width:81.6px;top:778.91px">122К</div>
<div class="t" style="left:82.6px;width:263.0px;top:778.91px">кладбище Вилга</div>
<div class="t" style="left:345.6px;width:75.7px;top:778.91px">10:55</div>
<div class="t" style="left:421.3px;width:132.2px;top:778.91px"><span class="r">кл.Вилга</span> 11:35</div>
<div class="t" style="left:553.5px;width:142.0px;top:778.91px"><span class="r">кл.Вилга</span> 11:40</div>
<div class="t" style="left:695.5px;width:71.0px;top:778.91px">12:20</div>
<div class="t" style="left:766.5px;width:95.0px;top:778.91px">ежедневно</div>
<div class="t" style="left:1.0px;width:81.6px;top:793.78px">122К</div>
<div class="t" style="left:82.6px;width:263.0px;top:793.78px">кладбище Вилга</div>
<div class="t" style="left:345.6px;width:75.7px;top:793.78px">12:55</div>
<div class="t" style="left:421.3px;width:132.2px;top:793.78px"><span class="r">кл.Вилга</span> 13:35</div>
<div class="t" style="left:553.5px;width:142.0px;top:793.78px"><span class="r">кл.Вилга</span> 13:40</div>
<div class="t" style="left:695.5px;width:71.0px;top:793.78px">14:20</div>
<div class="t" style="left:766.5px;width:95.0px;top:793.78px">ежедневно</div>
<div class="t" style="left:1.0px;width:81.6px;top:808.65px">116</div>
<div class="t" style="left:82.6px;width:263.0px;top:808.65px">Пряжа</div>
<div class="t" style="left:345.6px;width:75.7px;top:808.65px">8:30</div>
<div class="t" style="left:421.3px;width:132.2px;top:808.65px"><span class="r">Пряжа</span> 09:40</div>
<div class="t" style="left:553.5px;width:142.0px;top:808.65px"><span class="r">Пряжа</span> 09:45</div>
<div class="t" style="left:695.5px;width:71.0px;top:808.65px">10:55</div>
<div class="t" style="left:766.5px;width:95.0px;top:808.65px">ежедневно</div>
<div class="t" style="left:1.0px;width:81.6px;top:823.53px">116</div>
<div class="t" style="left:82.6px;width:263.0px;top:823.53px">Пряжа</div>
<div class="t" style="left:345.6px;width:75.7px;top:823.53px">12:00</div>
<div class="t" style="left:421.3px;width:132.2px;top:823.53px"><span class="r">Пряжа</span> 13:10</div>
<div class="t" style="left:553.5px;width:142.0px;top:823.53px"><span class="r">Пряжа</span> 13:15</div>
<div class="t" style="left:695.5px;width:71.0px;top:823.53px">14:25</div>
<div class="t" style="left:766.5px;width:95.0px;top:823.53px">ежедневно</div>
<div class="t" style="left:1.0px;width:81.6px;top:838.40px">116</div>
<div class="t" style="left:82.6px;width:263.0px;top:838.40px">Пряжа</div>
<div class="t" style="left:345.6px;width:75.7px;top:838.40px">15:30</div>
<div class="t" style="left:421.3px;width:132.2px;top:838.40px"><span class="r">Пряжа</span> 16:40</div>
<div class="t" style="left:553.5px;width:142.0px;top:838.40px"><span class="r">Пряжа</span> 16:45</div>
<div class="t" style="left:695.5px;width:71.0px;top:838.40px">17:55</div>
<div class="t" style="left:766.5px;width:95.0px;top:838.40px">ежедневно</div>
<div class="t" style="left:1.0px;width:81.6px;top:853.28px">123</div>
<div class="t" style="left:82.6px;width:263.0px;top:853.28px">Святозеро ч/з Пряжу</div>
<div class="t" style="left:345.6px;width:75.7px;top:853.28px">6:00</div>
<div class="t" style="left:421.3px;width:132.2px;top:853.28px"><span class="r">Святозеро</span> 07:45</div>
<div class="t" style="left:553.5px;width:142.0px;top:853.28px"><span class="r">Святозеро</span> 07:50</div>
<div class="t" style="left:695.5px;width:71.0px;top:853.28px">9:25</div>
<div class="t" style="left:766.5px;width:95.0px;top:853.28px">будни</div>
<div class="m" style="left:845.4px;width:100px;top:853.58px">Пряжа</div>
<div class="m" style="left:897.6px;width:100px;top:853.58px">7:10</div>
<div class="m" style="left:933.0px;width:100px;top:853.58px">8:15</div>
<div class="t" style="left:1.0px;width:81.6px;top:868.15px">123</div>
<div class="t" style="left:82.6px;width:263.0px;top:868.15px">Святозеро ч/з Пряжу</div>
<div class="t" style="left:345.6px;width:75.7px;top:868.15px">9:30</div>
<div class="t" style="left:421.3px;width:132.2px;top:868.15px"><span class="r">Святозеро</span> 11:15</div>
<div class="t" style="left:553.5px;width:142.0px;top:868.15px"><span class="r">Святозеро</span> 11:20</div>
<div class="t" style="left:695.5px;width:71.0px;top:868.15px">12:55</div>
<div class="t" style="left:766.5px;width:95.0px;top:868.15px">ежедневно</div>
<div class="m" style="left:845.4px;width:100px;top:868.45px">Пряжа</div>
<div class="m" style="left:897.6px;width:100px;top:868.45px">10:40</div>
<div class="m" style="left:933.0px;width:100px;top:868.45px">11:45</div>
<div class="t" style="left:1.0px;width:81.6px;top:883.02px">123</div>
<div class="t" style="left:82.6px;width:263.0px;top:883.02px">Святозеро ч/з Пряжу</div>
<div class="t" style="left:345.6px;width:75.7px;top:883.02px">14:00</div>
<div class="t" style="left:421.3px;width:132.2px;top:883.02px"><span class="r">Святозеро</span> 15:45</div>
<div class="t" style="left:553.5px;width:142.0px;top:883.02px"><span class="r">Святозеро</span> 15:50</div>
<div class="t" style="left:695.5px;width:71.0px;top:883.02px">17:25</div>
<div class="t" style="left:766.5px;width:95.0px;top:883.02px">ежедневно</div>
<div class="m" style="left:845.4px;width:100px;top:883.32px">Пряжа</div>
<div class="m" style="left:897.6px;width:100px;top:883.32px">15:10</div>
<div class="m" style="left:933.0px;width:100px;top:883.32px">16:15</div>
<div class="t" style="left:1.0px;width:81.6px;top:897.90px">123</div>
<div class="t" style="left:82.6px;width:263.0px;top:897.90px">Святозеро ч/з Пряжу</div>
<div class="t" style="left:345.6px;width:75.7px;top:897.90px">18:00</div>
<div class="t" style="left:421.3px;width:132.2px;top:897.90px"><span class="r">Святозеро</span> 19:45</div>
<div class="t" style="left:553.5px;width:142.0px;top:897.90px"><span class="r">Святозеро</span> 19:50</div>
<div class="t" style="left:695.5px;width:71.0px;top:897.90px">21:25</div>
<div class="t" style="left:766.5px;width:95.0px;top:897.90px">ежедневно</div>
<div class="m" style="left:845.4px;width:100px;top:898.20px">Пряжа</div>
<div class="m" style="left:897.6px;width:100px;top:898.20px">19:10</div>
<div class="m" style="left:933.0px;width:100px;top:898.20px">20:15</div>
<div class="t" style="left:1.0px;width:81.6px;top:912.77px">121</div>
<div class="t" style="left:82.6px;width:263.0px;top:912.77px">ст. Деревянка</div>
<div class="t" style="left:345.6px;width:75.7px;top:912.77px">6:05</div>
<div class="t" style="left:421.3px;width:132.2px;top:912.77px"><span class="r">ст.Деревянка</span> 07:10</div>
<div class="t" style="left:553.5px;width:142.0px;top:912.77px"><span class="r">ст.Деревянка</span> 17:15</div>
<div class="t" style="left:695.5px;width:71.0px;top:912.77px">8:30</div>
<div class="t" style="left:766.5px;width:95.0px;top:912.77px">будни</div>
<div class="t" style="left:1.0px;width:81.6px;top:927.65px">121</div>
<div class="t" style="left:82.6px;width:263.0px;top:927.65px">ст. Деревянка</div>
<div class="t" style="left:345.6px;width:75.7px;top:927.65px">9:05</div>
<div class="t" style="left:421.3px;width:132.2px;top:927.65px"><span class="r">ст.Деревянка</span> 10:20</div>
<div class="t" style="left:553.5px;width:142.0px;top:927.65px"><span class="r">ст.Деревянка</span> 10:25</div>
<div class="t" style="left:695.5px;width:71.0px;top:927.65px">11:40</div>
<div class="t" style="left:766.5px;width:95.0px;top:927.65px">ежедневно</div>
<div class="t" style="left:1.0px;width:81.6px;top:942.52px">121</div>
<div class="t" style="left:82.6px;width:263.0px;top:942.52px">ст. Деревянка</div>
<div class="t" style="left:345.6px;width:75.7px;top:942.52px">12:15</div>
<div class="t" style="left:421.3px;width:132.2px;top:942.52px"><span class="r">ст.Деревянка</span> 13:30</div>
<div class="t" style="left:553.5px;width:142.0px;top:942.52px"><span class="r">ст.Деревянка</span> 13:35</div>
<div class="t" style="left:695.5px;width:71.0px;top:942.52px">14:50</div>
<div class="t" style="left:766.5px;width:95.0px;top:942.52px">ежедневно</div>
<div class="t" style="left:1.0px;width:81.6px;top:957.39px">121</div>
<div class="t" style="left:82.6px;width:263.0px;top:957.39px">ст. Деревянка</div>
<div class="t" style="left:345.6px;width:75.7px;top:957.39px">16:05</div>
<div class="t" style="left:421.3px;width:132.2px;top:957.39px"><span class="r">ст.Деревянка</span> 17:20</div>
<div class="t" style="left:553.5px;width:142.0px;top:957.39px"><span class="r">ст.Деревянка</span> 17:25</div>
<div class="t" style="left:695.5px;width:71.0px;top:957.39px">18:40</div>
<div class="t" style="left:766.5px;width:95.0px;top:957.39px">ежедневно</div>
<div class="t" style="left:1.0px;width:81.6px;top:972.27px">107</div>
<div class="t" style="left:82.6px;width:263.0px;top:972.27px">Уя, 29 км</div>
<div class="t" style="left:345.6px;width:75.7px;top:972.27px">19:05</div>
<div class="t" style="left:421.3px;width:132.2px;top:972.27px"><span class="r">Уя, 29км</span> 19:50</div>
<div class="t" style="left:553.5px;width:142.0px;top:972.27px"><span class="r">Уя, 29км</span> 19:50</div>
<div class="t" style="left:695.5px;width:71.0px;top:972.27px">20:35</div>
<div class="t" style="left:766.5px;width:95.0px;top:972.27px">ежедневно</div>
<div class="t" style="left:1.0px;width:81.6px;top:987.14px">113</div>
<div class="t" style="left:82.6px;width:263.0px;top:987.14px">Лососинное/Машезеро/Шапшезеро</div>
<div class="t" style="left:345.6px;width:75.7px;top:987.14px">8:20</div>
<div class="t" style="left:421.3px;width:132.2px;top:987.14px"><span class="r">Машезеро</span> 09:20</div>
<div class="t" style="left:553.5px;width:142.0px;top:987.14px"><span class="r">Шапшезеро</span> 09:35</div>
<div class="t" style="left:695.5px;width:71.0px;top:987.14px">10:35</div>
<div class="t" style="left:766.5px;width:95.0px;top:987.14px">сб,вс</div>
<div class="m" style="left:845.4px;width:100px;top:987.44px">Лососинное</div>
<div class="m" style="left:897.6px;width:100px;top:987.44px">8:50</div>
<div class="t" style="left:1.0px;width:81.6px;top:1002.02px">113</div>
<div class="t" style="left:82.6px;width:263.0px;top:1002.02px">Шапшезеро/Машезеро/Лососинное</div>
<div class="t" style="left:345.6px;width:75.7px;top:1002.02px">17:50</div>
<div class="t" style="left:421.3px;width:132.2px;top:1002.02px"><span class="r">Шапшезеро</span> 18:55</div>
<div class="t" style="left:553.5px;width:142.0px;top:1002.02px"><span class="r">Машезеро</span> 19:15</div>
<div class="t" style="left:695.5px;width:71.0px;top:1002.02px">20:10</div>
<div class="t" style="left:766.5px;width:95.0px;top:1002.02px">пт,сб,вс</div>
<div class="m" style="left:845.4px;width:100px;top:1002.32px">Лососинное</div>
<div class="m" style="left:897.6px;width:100px;top:1002.32px">19:40</div>
<div class="t" style="left:1.0px;width:81.6px;top:1016.89px">124</div>
<div class="t" style="left:82.6px;width:263.0px;top:1016.89px">Суйсарь ч/з Лехнаволок</div>
<div class="t" style="left:345.6px;width:75.7px;top:1016.89px">9:00</div>
<div class="t" style="left:421.3px;width:132.2px;top:1016.89px"><span class="r">Суйсарь</span> 10:30</div>
<div class="t" style="left:553.5px;width:142.0px;top:1016.89px"><span class="r">Суйсарь</span> 10:35</div>
<div class="t" style="left:695.5px;width:71.0px;top:1016.89px">12:20</div>
<div class="t" style="left:766.5px;width:95.0px;top:1016.89px">пн,сб</div>
<div class="m" style="left:845.4px;width:100px;top:1017.19px">Лехнаволок</div>
<div class="m" style="left:897.6px;width:100px;top:1017.19px">9:50</div>
<div class="m" style="left:933.0px;width:100px;top:1017.19px">11:15</div>
<div class="t" style="left:1.0px;width:81.6px;top:1031.76px">124</div>
<div class="t" style="left:82.6px;width:263.0px;top:1031.76px">Суйсарь ч/з Лехнаволок</div>
<div class="t" style="left:345.6px;width:75.7px;top:1031.76px">18:30</div>
<div class="t" style="left:421.3px;width:132.2px;top:1031.76px"><span class="r">Суйсарь</span> 20:00</div>
<div class="t" style="left:553.5px;width:142.0px;top:1031.76px"><span class="r">Суйсарь</span> 20:05</div>
<div class="t" style="left:695.5px;width:71.0px;top:1031.76px">21:50</div>
<div class="t" style="left:766.5px;width:95.0px;top:1031.76px">пн,пт,сб</div>
<div class="m" style="left:845.4px;width:100px;top:1032.06px">Лехнаволок</div>
<div class="m" style="left:897.6px;width:100px;top:1032.06px">19:20</div>
<div class="m" style="left:933.0px;width:100px;top:1032.06px">20:45</div>
<div class="t" style="left:1.0px;width:81.6px;top:1046.64px">111</div>
<div class="t" style="left:82.6px;width:263.0px;top:1046.64px">Пиньгуба</div>
<div class="t" style="left:345.6px;width:75.7px;top:1046.64px">9:15</div>
<div class="t" style="left:421.3px;width:132.2px;top:1046.64px"><span class="r">Пиньгуба</span> 10:15</div>
<div class="t" style="left:553.5px;width:142.0px;top:1046.64px"><span class="r">Пиньгуба</span> 10:20</div>
<div class="t" style="left:695.5px;width:71.0px;top:1046.64px">11:35</div>
<div class="t" style="left:766.5px;width:95.0px;top:1046.64px">чт,вс</div>
<div class="t" style="left:1.0px;width:81.6px;top:1061.51px">111</div>
<div class="t" style="left:82.6px;width:263.0px;top:1061.51px">Пиньгуба</div>
<div class="t" style="left:345.6px;width:75.7px;top:1061.51px">16:20</div>
<div class="t" style="left:421.3px;width:132.2px;top:1061.51px"><span class="r">Пиньгуба</span> 17:20</div>
<div class="t" style="left:553.5px;width:142.0px;top:1061.51px"><span class="r">Пиньгуба</span> 17:25</div>
<div class="t" style="left:695.5px;width:71.0px;top:1061.51px">18:20</div>
<div class="t" style="left:766.5px;width:95.0px;top:1061.51px">чт,вс</div>
<div class="t" style="left:1.0px;width:81.6px;top:1076.39px">101</div>
<div class="t" style="left:82.6px;width:263.0px;top:1076.39px">Лехнаволок</div>
<div class="t" style="left:345.6px;width:75.7px;top:1076.39px">5:50</div>
<div class="t" style="left:421.3px;width:132.2px;top:1076.39px"><span class="r">Лехнаволок</span> 06:40</div>
<div class="t" style="left:553.5px;width:142.0px;top:1076.39px"><span class="r">Лехнаволок</span> 06:40</div>
<div class="t" style="left:695.5px;width:71.0px;top:1076.39px">7:45</div>
<div class="t" style="left:766.5px;width:95.0px;top:1076.39px">кроме вс</div>
<div class="t" style="left:1.0px;width:81.6px;top:1091.26px">101</div>
<div class="t" style="left:82.6px;width:263.0px;top:1091.26px">Лехнаволок</div>
<div class="t" style="left:345.6px;width:75.7px;top:1091.26px">6:30</div>
<div class="t" style="left:421.3px;width:132.2px;top:1091.26px"><span class="r">Лехнаволок</span> 07:20</div>
<div class="t" style="left:553.5px;width:142.0px;top:1091.26px"><span class="r">Лехнаволок</span> 07:20</div>
<div class="t" style="left:695.5px;width:71.0px;top:1091.26px">8:25</div>
<div class="t" style="left:766.5px;width:95.0px;top:1091.26px">ежедневно</div>
<div class="t" style="left:1.0px;width:81.6px;top:1106.13px">101</div>
<div class="t" style="left:82.6px;width:263.0px;top:1106.13px">Лехнаволок</div>
<div class="t" style="left:345.6px;width:75.7px;top:1106.13px">7:20</div>
<div class="t" style="left:421.3px;width:132.2px;top:1106.13px"><span class="r">Лехнаволок</span> 08:10</div>
<div class="t" style="left:553.5px;width:142.0px;top:1106.13px"><span class="r">Лехнаволок</span> 08:15</div>
<div class="t" style="left:695.5px;width:71.0px;top:1106.13px">9:20</div>
<div class="t" style="left:766.5px;width:95.0px;top:1106.13px">ежедневно</div>
<div class="t" style="left:1.0px;width:81.6px;top:1121.01px">101</div>
<div class="t" style="left:82.6px;width:263.0px;top:1121.01px">Лехнаволок</div>
<div class="t" style="left:345.6px;width:75.7px;top:1121.01px">8:10</div>
<div class="t" style="left:421.3px;width:132.2px;top:1121.01px"><span class="r">Лехнаволок</span> 09:00</div>
<div class="t" style="left:553.5px;width:142.0px;top:1121.01px"><span class="r">Лехнаволок</span> 09:05</div>
<div class="t" style="left:695.5px;width:71.0px;top:1121.01px">10:05</div>
<div class="t" style="left:766.5px;width:95.0px;top:1121.01px">ежедневно</div>
<div class="t" style="left:1.0px;width:81.6px;top:1135.88px">101</div>
<div class="t" style="left:82.6px;width:263.0px;top:1135.88px">Лехнаволок</div>
<div class="t" style="left:345.6px;width:75.7px;top:1135.88px">9:15</div>
<div class="t" style="left:421.3px;width:132.2px;top:1135.88px"><span class="r">Лехнаволок</span> 10:05</div>
<div class="t" style="left:553.5px;width:142.0px;top:1135.88px"><span class="r">Лехнаволок</span> 10:05</div>
<div class="t" style="left:695.5px;width:71.0px;top:1135.88px">11:10</div>
<div class="t" style="left:766.5px;width:95.0px;top:1135.88px">вт,ср,пт</div>
<div class="t" style="left:1.0px;width:81.6px;top:1150.76px">101</div>
<div class="t" style="left:82.6px;width:263.0px;top:1150.76px">Лехнаволок</div>
<div class="t" style="left:345.6px;width:75.7px;top:1150.76px">11:00</div>
<div class="t" style="left:421.3px;width:132.2px;top:1150.76px"><span class="r">Лехнаволок</span> 11:50</div>
<div class="t" style="left:553.5px;width:142.0px;top:1150.76px"><span class="r">Лехнаволок</span> 11:55</div>
<div class="t" style="left:695.5px;width:71.0px;top:1150.76px">13:00</div>
<div class="t" style="left:766.5px;width:95.0px;top:1150.76px">ежедневно</div>
<div class="t" style="left:1.0px;width:81.6px;top:1165.63px">101</div>
<div class="t" style="left:82.6px;width:263.0px;top:1165.63px">Лехнаволок</div>
<div class="t" style="left:345.6px;width:75.7px;top:1165.63px">12:35</div>
<div class="t" style="left:421.3px;width:132.2px;top:1165.63px"><span class="r">Лехнаволок</span> 13:25</div>
<div class="t" style="left:553.5px;width:142.0px;top:1165.63px"><span class="r">Лехнаволок</span> 13:30</div>
<div class="t" style="left:695.5px;width:71.0px;top:1165.63px">14:35</div>
<div class="t" style="left:766.5px;width:95.0px;top:1165.63px">ежедневно</div>
<div class="t" style="left:1.0px;width:81.6px;top:1180.50px">101</div>
<div class="t" style="left:82.6px;width:263.0px;top:1180.50px">Лехнаволок</div>
<div class="t" style="left:345.6px;width:75.7px;top:1180.50px">13:20</div>
<div class="t" style="left:421.3px;width:132.2px;top:1180.50px"><span class="r">Лехнаволок</span> 14:10</div>
<div class="t" style="left:553.5px;width:142.0px;top:1180.50px"><span class="r">Лехнаволок</span> 14:15</div>
<div class="t" style="left:695.5px;width:71.0px;top:1180.50px">15:20</div>
<div class="t" style="left:766.5px;width:95.0px;top:1180.50px">ежедневно</div>
<div class="t" style="left:1.0px;width:81.6px;top:1195.38px">101</div>
<div class="t" style="left:82.6px;width:263.0px;top:1195.38px">Лехнаволок</div>
<div class="t" style="left:345.6px;width:75.7px;top:1195.38px">15:35</div>
<div class="t" style="left:421.3px;width:132.2px;top:1195.38px"><span class="r">Лехнаволок</span> 16:25</div>
<div class="t" style="left:553.5px;width:142.0px;top:1195.38px"><span class="r">Лехнаволок</span> 16:30</div>
<div class="t" style="left:695.5px;width:71.0px;top:1195.38px">17:35</div>
<div class="t" style="left:766.5px;width:95.0px;top:1195.38px">ежедневно</div>
<div class="t" style="left:1.0px;width:81.6px;top:1210.25px">101</div>
<div class="t" style="left:82.6px;width:263.0px;top:1210.25px">Лехнаволок</div>
<div class="t" style="left:345.6px;width:75.7px;top:1210.25px">16:20</div>
<div class="t" style="left:421.3px;width:132.2px;top:1210.25px"><span class="r">Лехнаволок</span> 17:10</div>
<div class="t" style="left:553.5px;width:142.0px;top:1210.25px"><span class="r">Лехнаволок</span> 17:15</div>
<div class="t" style="left:695.5px;width:71.0px;top:1210.25px">18:20</div>
<div class="t" style="left:766.5px;width:95.0px;top:1210.25px">пн,вс,ср,пт,сб</div>
<div class="t" style="left:1.0px;width:81.6px;top:1225.13px">101</div>
<div class="t" style="left:82.6px;width:263.0px;top:1225.13px">Лехнаволок</div>
<div class="t" style="left:345.6px;width:75.7px;top:1225.13px">17:35</div>
<div class="t" style="left:421.3px;width:132.2px;top:1225.13px"><span class="r">Лехнаволок</span> 18:25</div>
<div class="t" style="left:553.5px;width:142.0px;top:1225.13px"><span class="r">Лехнаволок</span> 18:30</div>
<div class="t" style="left:695.5px;width:71.0px;top:1225.13px">19:35</div>
<div class="t" style="left:766.5px;width:95.0px;top:1225.13px">ежедневно</div>
<div class="t" style="left:1.0px;width:81.6px;top:1240.00px">101</div>
<div class="t" style="left:82.6px;width:263.0px;top:1240.00px">Лехнаволок</div>
<div class="t" style="left:345.6px;width:75.7px;top:1240.00px">18:30</div>
<div class="t" style="left:421.3px;width:132.2px;top:1240.00px"><span class="r">Лехнаволок</span> 19:20</div>
<div class="t" style="left:553.5px;width:142.0px;top:1240.00px"><span class="r">Лехнаволок</span> 19:25</div>
<div class="t" style="left:695.5px;width:71.0px;top:1240.00px">20:30</div>
<div class="t" style="left:766.5px;width:95.0px;top:1240.00px">вт,ср,чт,сб</div>
<div class="t" style="left:1.0px;width:81.6px;top:1254.87px">101</div>
<div class="t" style="left:82.6px;width:263.0px;top:1254.87px">Лехнаволок</div>
<div class="t" style="left:345.6px;width:75.7px;top:1254.87px">19:30</div>
<div class="t" style="left:421.3px;width:132.2px;top:1254.87px"><span class="r">Лехнаволок</span> 20:20</div>
<div class="t" style="left:553.5px;width:142.0px;top:1254.87px"><span class="r">Лехнаволок</span> 20:25</div>
<div class="t" style="left:695.5px;width:71.0px;top:1254.87px">21:30</div>
<div class="t" style="left:766.5px;width:95.0px;top:1254.87px">ежедневно</div>
<div class="t" style="left:1.0px;width:81.6px;top:1269.75px">101</div>
<div class="t" style="left:82.6px;width:263.0px;top:1269.75px">Лехнаволок</div>
<div class="t" style="left:345.6px;width:75.7px;top:1269.75px">20:35</div>
<div class="t" style="left:421.3px;width:132.2px;top:1269.75px"><span class="r">Лехнаволок</span> 21:20</div>
<div class="t" style="left:553.5px;width:142.0px;top:1269.75px"><span class="r">Лехнаволок</span> 21:20</div>
<div class="t" style="left:695.5px;width:71.0px;top:1269.75px">22:05</div>
<div class="t" style="left:766.5px;width:95.0px;top:1269.75px">ежедневно</div>
<div class="t" style="left:1.0px;width:81.6px;top:1284.62px">132Э</div>
<div class="t" style="left:82.6px;width:263.0px;top:1284.62px">Кондопога экспресс</div>
<div class="t" style="left:345.6px;width:75.7px;top:1284.62px">9:05</div>
<div class="t" style="left:421.3px;width:132.2px;top:1284.62px"><span class="r">Кондопога</span> 10:35</div>
<div class="t" style="left:553.5px;width:142.0px;top:1284.62px"><span class="r">Кондопога</span> 07:30</div>
<div class="t" style="left:695.5px;width:71.0px;top:1284.62px">8:50</div>
<div class="t" style="left:766.5px;width:95.0px;top:1284.62px">ежедневно</div>
<div class="m" style="left:845.4px;width:100px;top:1284.92px">ЖД вокзал</div>
<div class="m" style="left:897.6px;width:100px;top:1284.92px">8:40</div>
<div class="m" style="left:933.0px;width:100px;top:1284.92px">8:25</div>
<div class="t" style="left:1.0px;width:81.6px;top:1299.50px">132Э</div>
<div class="t" style="left:82.6px;width:263.0px;top:1299.50px">Кондопога экспресс</div>
<div class="t" style="left:345.6px;width:75.7px;top:1299.50px">10:50</div>
<div class="t" style="left:421.3px;width:132.2px;top:1299.50px"><span class="r">Кондопога</span> 12:20</div>
<div class="t" style="left:553.5px;width:142.0px;top:1299.50px"><span class="r">Кондопога</span> 09:15</div>
<div class="t" style="left:695.5px;width:71.0px;top:1299.50px">10:35</div>
<div class="t" style="left:766.5px;width:95.0px;top:1299.50px">ежедневно</div>
<div class="m" style="left:845.4px;width:100px;top:1299.80px">ЖД вокзал</div>
<div class="m" style="left:897.6px;width:100px;top:1299.80px">10:25</div>
<div class="m" style="left:933.0px;width:100px;top:1299.80px">11:10</div>
<div class="t" style="left:1.0px;width:81.6px;top:1314.37px">132Э</div>
<div class="t" style="left:82.6px;width:263.0px;top:1314.37px">Кондопога экспресс</div>
<div class="t" style="left:345.6px;width:75.7px;top:1314.37px">13:35</div>
<div class="t" style="left:421.3px;width:132.2px;top:1314.37px"><span class="r">Кондопога</span> 15:05</div>
<div class="t" style="left:553.5px;width:142.0px;top:1314.37px"><span class="r">Кондопога</span> 11:45</div>
<div class="t" style="left:695.5px;width:71.0px;top:1314.37px">13:05</div>
<div class="t" style="left:766.5px;width:95.0px;top:1314.37px">ежедневно</div>
<div class="m" style="left:845.4px;width:100px;top:1314.67px">ЖД вокзал</div>
<div class="m" style="left:897.6px;width:100px;top:1314.67px">12:55</div>
<div class="m" style="left:933.0px;width:100px;top:1314.67px">13:55</div>
<div class="t" style="left:1.0px;width:81.6px;top:1329.24px">132Э</div>
<div class="t" style="left:82.6px;width:263.0px;top:1329.24px">Кондопога экспресс</div>
<div class="t" style="left:345.6px;width:75.7px;top:1329.24px">17:05</div>
<div class="t" style="left:421.3px;width:132.2px;top:1329.24px"><span class="r">Кондопога</span> 18:35</div>
<div class="t" style="left:553.5px;width:142.0px;top:1329.24px"><span class="r">Кондопога</span> 15:30</div>
<div class="t" style="left:695.5px;width:71.0px;top:1329.24px">16:50</div>
<div class="t" style="left:766.5px;width:95.0px;top:1329.24px">ежедневно</div>
<div class="m" style="left:845.4px;width:100px;top:1329.54px">ЖД вокзал</div>
<div class="m" style="left:897.6px;width:100px;top:1329.54px">16:40</div>
<div class="m" style="left:933.0px;width:100px;top:1329.54px">17:25</div>
<div class="t" style="left:1.0px;width:81.6px;top:1344.12px">132Э</div>
<div class="t" style="left:82.6px;width:263.0px;top:1344.12px">Кондопога экспресс</div>
<div class="t" style="left:345.6px;width:75.7px;top:1344.12px">18:25</div>
<div class="t" style="left:421.3px;width:132.2px;top:1344.12px"><span class="r">Кондопога</span> 19:50</div>
<div class="t" style="left:553.5px;width:142.0px;top:1344.12px"><span class="r">Кондопога</span> 17:00</div>
<div class="t" style="left:695.5px;width:71.0px;top:1344.12px">18:20</div>
<div class="t" style="left:766.5px;width:95.0px;top:1344.12px">ежедневно</div>
<div class="m" style="left:845.4px;width:100px;top:1344.42px">ЖД вокзал</div>
<div class="m" style="left:897.6px;width:100px;top:1344.42px">18:10</div>
<div class="m" style="left:933.0px;width:100px;top:1344.42px">18:40</div>
<div class="t" style="left:1.0px;width:81.6px;top:1358.99px">132Э</div>
<div class="t" style="left:82.6px;width:263.0px;top:1358.99px">Кондопога экспресс</div>
<div class="t" style="left:345.6px;width:75.7px;top:1358.99px">-</div>
<div class="t" style="left:421.3px;width:132.2px;top:1358.99px">-</div>
<div class="t" style="left:553.5px;width:142.0px;top:1358.99px"><span class="r">Кондопога</span> 20:30</div>
<div class="t" style="left:695.5px;width:71.0px;top:1358.99px">21:40</div>
<div class="t" style="left:766.5px;width:95.0px;top:1358.99px">ежедневно</div>
<div class="m" style="left:845.4px;width:100px;top:1359.29px">ЖД вокзал</div>
<div class="m" style="left:897.6px;width:100px;top:1359.29px">21:30</div>
<div class="m" style="left:933.0px;width:100px;top:1359.29px">-</div>
<div class="t" style="left:1.0px;width:81.6px;top:1373.87px">132</div>
<div class="t" style="left:82.6px;width:263.0px;top:1373.87px">Кондопога через ММС, Шуя, ШУйская</div>
<div class="t" style="left:345.6px;width:75.7px;top:1373.87px">21:50</div>
<div class="t" style="left:421.3px;width:132.2px;top:1373.87px"><span class="r">Кондопога</span> 23:10</div>
<div class="t" style="left:553.5px;width:142.0px;top:1373.87px">-</div>
<div class="t" style="left:695.5px;width:71.0px;top:1373.87px">-</div>
<div class="t" style="left:766.5px;width:95.0px;top:1373.87px">ежедневно</div>
<div class="m" style="left:845.4px;width:100px;top:1374.17px">ЖД вокзал</div>
<div class="m" style="left:897.6px;width:100px;top:1374.17px">-</div>
<div class="m" style="left:933.0px;width:100px;top:1374.17px">22:00</div>
</body></html>
